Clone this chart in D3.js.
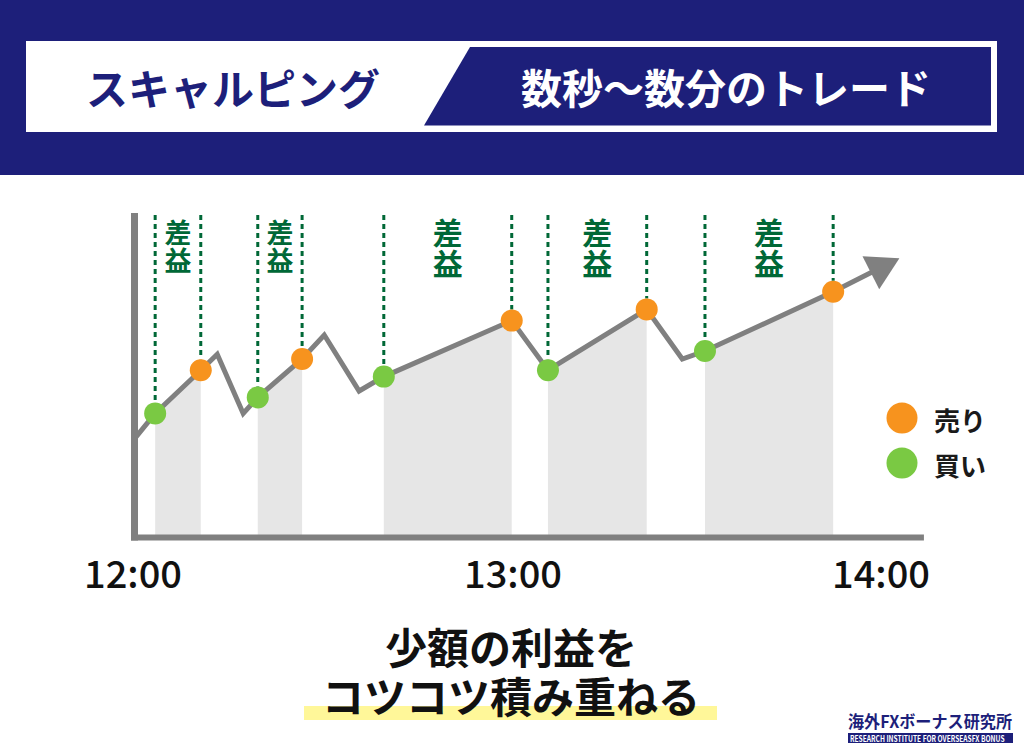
<!DOCTYPE html>
<html><head><meta charset="utf-8">
<script src="https://cdn.jsdelivr.net/npm/d3@7"></script>
<style>body{margin:0;background:#fff}svg{display:block}text{font-family:"Noto Sans CJK JP","Noto Sans",sans-serif}</style>
</head><body><svg id="c" width="1024" height="755"></svg>
<script>
// ---- data ----
const headerLeft = "スキャルピング";
const headerRight = "数秒〜数分のトレード";
const times  = [0, 3.5, 10.7, 13.3, 17.4, 19.7, 26.7, 30.2, 35.7, 39.6, 59.8, 65.7, 81.8, 87.6, 91.3, 112.2, 123];
const prices = [29.5, 38, 51.5, 56.5, 38, 43, 55, 62.5, 45, 49.5, 67, 51.5, 70.5, 55, 57.5, 76, 86.5];
const buyIdx  = [1, 5, 9, 11, 14];
const sellIdx = [2, 6, 10, 12, 15];
const tickTimes  = [0, 60, 120];
const tickLabels = ["12:00", "13:00", "14:00"];
const gainLabel = "差益";
const legendLabels = ["売り", "買い"];
const captionLines = ["少額の利益を", "コツコツ積み重ねる"];
const logoText = "海外FXボーナス研究所";
const logoSub = "RESEARCH INSTITUTE FOR OVERSEASFX BONUS";

// ---- style ----
const NAVY = "#1d1f7a", GRAY = "#808080", ORANGE = "#f7931e", GREEN = "#7ac943", DKGREEN = "#006837", FILL = "#e6e6e6";

const svg = d3.select("#c");

// header
svg.append("rect").attr("x",0).attr("y",0).attr("width",1024).attr("height",175).attr("fill",NAVY);
svg.append("rect").attr("x",26).attr("y",41).attr("width",971).attr("height",91).attr("fill","#fff");
svg.append("path").attr("d","M424,125.5 L470,47 L991,47 L991,125.5 Z").attr("fill",NAVY);
svg.append("text").attr("x",233).attr("y",86).attr("text-anchor","middle").attr("dominant-baseline","central")
  .attr("font-size",42).attr("font-weight",700).attr("fill",NAVY).text(headerLeft);
svg.append("text").attr("x",726).attr("y",86).attr("text-anchor","middle").attr("dominant-baseline","central")
  .attr("font-size",41).attr("font-weight",700).attr("fill","#fff").text(headerRight);

// scales
const x = d3.scaleLinear().domain([0, 60, 120]).range([133, 513, 881]);
const y = d3.scaleLinear().domain([0, 100]).range([535, 215]);
const axisEndTime = 127;
const pts = times.map((t, i) => [x(t), y(prices[i])]);

// shaded gain areas
const area = d3.area().x(d => d[0]).y0(y(0)).y1(d => d[1]);
buyIdx.forEach((b, k) => {
  const s = sellIdx[k];
  svg.append("path").attr("d", area(pts.slice(b, s + 1))).attr("fill", FILL);
});

// dotted vertical lines
const R = 11;
buyIdx.concat(sellIdx).forEach(i => {
  svg.append("line").attr("x1", pts[i][0]).attr("x2", pts[i][0])
    .attr("y1", y(100)).attr("y2", pts[i][1] - R)
    .attr("stroke", DKGREEN).attr("stroke-width", 3).attr("stroke-dasharray", "5,4");
});

// gain labels (vertical text)
buyIdx.forEach((b, k) => {
  const s = sellIdx[k];
  const cx = (pts[b][0] + pts[s][0]) / 2;
  const fs = (pts[s][0] - pts[b][0]) < 60 ? 27 : 30;
  svg.append("text").attr("x", cx).attr("y", 232.5 - fs / 2)
    .style("writing-mode", "vertical-rl").attr("letter-spacing", 1)
    .attr("font-size", fs).attr("font-weight", 700).attr("fill", DKGREEN).text(gainLabel);
});

// price line + arrow
const tip = pts[pts.length - 1], prev = pts[pts.length - 2];
const dx = tip[0] - prev[0], dy = tip[1] - prev[1], L = Math.hypot(dx, dy);
const ux = dx / L, uy = dy / L;
const headLen = 32, headHalf = 18.5;
const base = [tip[0] - ux * headLen, tip[1] - uy * headLen];
const linePts = pts.slice(0, -1).concat([[base[0] + ux * 2, base[1] + uy * 2]]);
svg.append("path").attr("d", d3.line()(linePts)).attr("fill", "none")
  .attr("stroke", GRAY).attr("stroke-width", 5).attr("stroke-linejoin", "miter");
svg.append("path").attr("d", d3.line()([tip,
  [base[0] - uy * headHalf, base[1] + ux * headHalf],
  [base[0] + uy * headHalf, base[1] - ux * headHalf]]) + "Z").attr("fill", GRAY);

// axes
svg.append("line").attr("x1", x(0) + 1.5).attr("x2", x(0) + 1.5).attr("y1", y(100) - 2).attr("y2", y(0) + 5.5)
  .attr("stroke", GRAY).attr("stroke-width", 7);
svg.append("line").attr("x1", x(0) - 2).attr("x2", x(axisEndTime)).attr("y1", y(0) + 2.5).attr("y2", y(0) + 2.5)
  .attr("stroke", GRAY).attr("stroke-width", 6);

// points
buyIdx.forEach(i => svg.append("circle").attr("cx", pts[i][0]).attr("cy", pts[i][1]).attr("r", R).attr("fill", GREEN));
sellIdx.forEach(i => svg.append("circle").attr("cx", pts[i][0]).attr("cy", pts[i][1]).attr("r", R).attr("fill", ORANGE));

// tick labels
tickTimes.forEach((t, i) => {
  svg.append("text").attr("x", x(t)).attr("y", 588).attr("text-anchor", "middle")
    .attr("font-size", 38).attr("font-weight", 500).attr("fill", "#111").text(tickLabels[i]);
});

// legend
[ORANGE, GREEN].forEach((c, i) => {
  const cy = 418 + i * 45;
  svg.append("circle").attr("cx", 902).attr("cy", cy).attr("r", 15.5).attr("fill", c);
  svg.append("text").attr("x", 934).attr("y", cy + 1).attr("dominant-baseline", "central")
    .attr("font-size", 26).attr("font-weight", 700).attr("fill", "#1a1a1a").text(legendLabels[i]);
});

// caption
svg.append("rect").attr("x", 304).attr("y", 706).attr("width", 413).attr("height", 14).attr("fill", "#fff799");
const cap = svg.append("text").attr("text-anchor", "middle").attr("font-size", 42).attr("font-weight", 700).attr("fill", "#111");
captionLines.forEach((t, i) => {
  cap.append("tspan").attr("x", 511).attr("y", 664 + i * 49).text(t);
});

// logo
svg.append("text").attr("x", 848).attr("y", 727.5)
  .attr("font-size", 16.5).attr("font-weight", 700).attr("fill", NAVY)
  .attr("textLength", 164).attr("lengthAdjust", "spacingAndGlyphs").text(logoText);
svg.append("rect").attr("x", 848).attr("y", 733).attr("width", 165).attr("height", 10).attr("fill", NAVY);
svg.append("g").attr("transform", "translate(850,741.5) scale(0.78,1)")
  .append("text").attr("x", 0).attr("y", 0)
  .attr("font-size", 8.5).attr("font-weight", 700).attr("fill", "#fff").text(logoSub);
</script></body></html>
